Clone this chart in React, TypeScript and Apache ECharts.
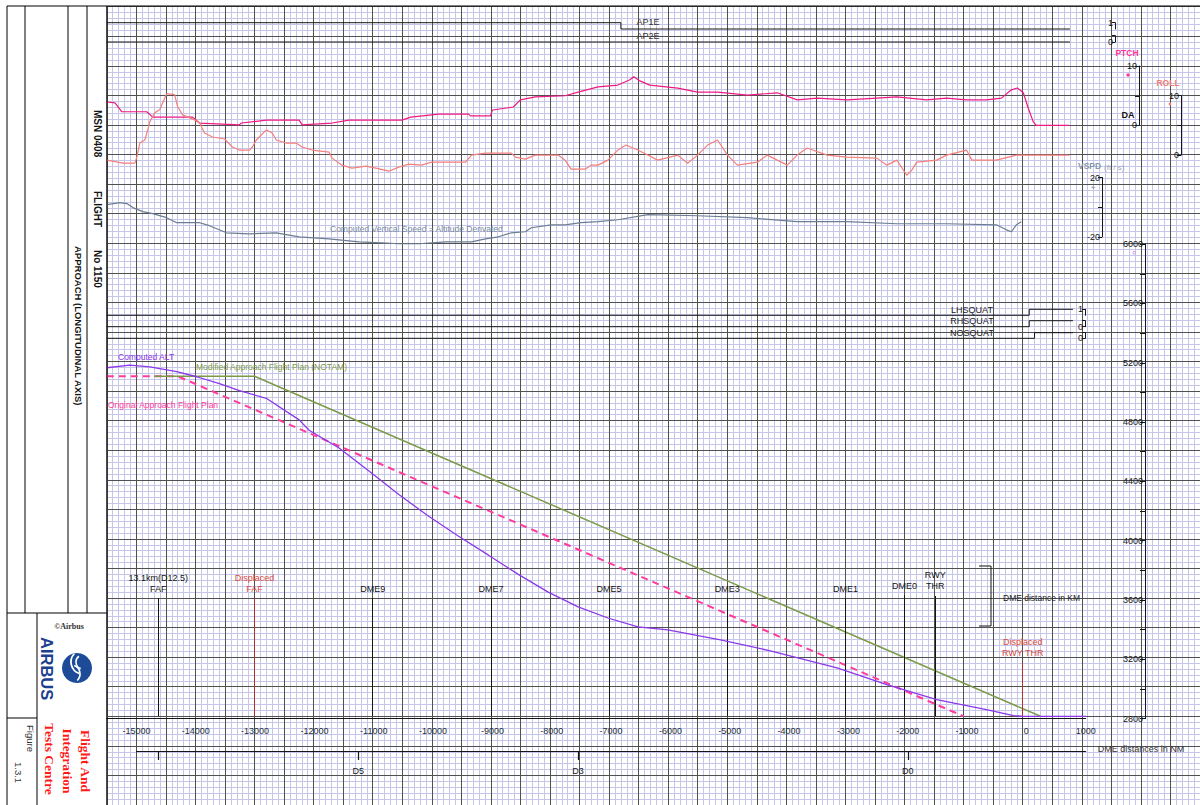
import React, { useEffect, useRef } from "react";
import * as echarts from "echarts";

// ---------------- DATA ----------------
// distance from displaced threshold (m) vs altitude (ft)
const computedAlt: [number, number][] = [
  [-15500, 5158], [-15109, 5175], [-14773, 5164], [-14318, 5131], [-13981, 5097],
  [-13593, 5050], [-13256, 5003], [-12801, 4951], [-12245, 4805], [-12076, 4735],
  [-11570, 4615], [-11064, 4460], [-10558, 4300], [-10053, 4153], [-9547, 4018],
  [-9041, 3890], [-8536, 3760], [-8030, 3640], [-7524, 3540], [-7019, 3465],
  [-6513, 3405], [-6007, 3385], [-5114, 3317], [-4272, 3243], [-3142, 3128],
  [-2299, 3014], [-1456, 2913], [-613, 2845], [-158, 2805], [10, 2800], [1072, 2800],
];
const originalPlan: [number, number][] = [[-15500, 5100], [-14300, 5100], [-1000, 2800]];
const modifiedPlan: [number, number][] = [[-14700, 5100], [-13000, 5100], [300, 2800]];

// pitch attitude (deg)
const pitch: [number, number][] = [
  [-15500, 3.95], [-15362, 3.8], [-15244, 2.3], [-14824, 2.3], [-14723, 1.4], [-14048, 1.4],
  [-13930, 0.4], [-13256, 0.1], [-13222, 0.4], [-12801, 0.9], [-12245, 0.9], [-12194, 0.1],
  [-11688, 0.4], [-11402, 0.9], [-10508, 0.9], [-10356, 1.4], [-9884, 1.9], [-9378, 1.9],
  [-9345, 1.6], [-9007, 1.6], [-8974, 2.6], [-8620, 3.1], [-8502, 4.3], [-8249, 4.8],
  [-7744, 5.0], [-7524, 5.6], [-7187, 6.5], [-6850, 6.8], [-6648, 7.7], [-6581, 8.2],
  [-6479, 7.5], [-6311, 6.8], [-5839, 6.3], [-5502, 5.6], [-5165, 5.6], [-4659, 5.1],
  [-4154, 5.5], [-3816, 4.3], [-3479, 4.6], [-2973, 4.3], [-2468, 4.6], [-2130, 4.8],
  [-1625, 4.3], [-1288, 4.6], [-951, 4.3], [-613, 4.3], [-361, 4.6], [-192, 6.0],
  [-91, 6.3], [10, 5.5], [94, 2.9], [179, 0.6], [229, 0], [785, 0],
];

// roll attitude (deg)
const roll: [number, number][] = [
  [-15500, -0.85], [-15227, -1.36], [-15025, -1.36], [-14992, -0.34], [-14941, 2.03],
  [-14857, 2.54], [-14807, 4.24], [-14773, 5.59], [-14689, 7.12], [-14605, 7.63],
  [-14554, 8.81], [-14487, 10.34], [-14352, 10.17], [-14301, 8.14], [-14217, 6.78],
  [-14015, 5.93], [-13930, 5.42], [-13846, 3.73], [-13711, 3.05], [-13509, 2.71],
  [-13374, 1.36], [-13256, 0.85], [-13087, 0.85], [-13037, 1.36], [-12969, 2.54],
  [-12919, 3.05], [-12801, 4.24], [-12700, 3.73], [-12632, 2.54], [-12464, 2.03],
  [-12295, 2.03], [-12194, 1.36], [-12026, 0.85], [-11738, 0.51], [-11688, -0.51],
  [-11520, -1.69], [-11351, -2.2], [-11115, -1.86], [-10946, -2.2], [-10727, -2.71],
  [-10558, -2.03], [-10390, -1.53], [-10171, -1.69], [-10002, -1.19], [-9429, -1.19],
  [-9328, 0], [-9092, 0.34], [-8654, 0.34], [-8586, -0.34], [-8418, -0.68], [-8249, 0],
  [-7862, 0], [-7744, -0.85], [-7643, -2.37], [-7407, -2.37], [-7305, -1.69], [-7187, -1.69],
  [-7019, -0.85], [-6850, 0.85], [-6715, 1.69], [-6513, 0.85], [-6176, -0.85], [-5839, 0],
  [-5670, -1.36], [-5502, 0], [-5333, 1.69], [-5165, 2.54], [-4996, 0], [-4828, -1.69],
  [-4491, -1.19], [-4322, 0], [-3985, -1.69], [-3816, 0], [-3648, 1.19], [-3311, 0],
  [-2973, -0.34], [-2468, -0.51], [-2299, -1.69], [-2130, -0.85], [-1962, -3.39],
  [-1877, -2.54], [-1793, -1.19], [-1456, -0.85], [-1288, 0], [-951, 0.85], [-860, -0.85],
  [-445, -0.85], [-108, 0], [785, 0],
];

// computed vertical speed (ft/s)
const vspd: [number, number][] = [
  [-15500, 1.7], [-15278, 3.05], [-15160, 2.4], [-15059, -0.3], [-14891, -3.05],
  [-14723, -4.4], [-14487, -7.1], [-14318, -10.5], [-13930, -10.5], [-13762, -12.5],
  [-13475, -17.3], [-13087, -18], [-12632, -17.3], [-12245, -20], [-11738, -21.4],
  [-11233, -23.4], [-10845, -24.1], [-10558, -24.7], [-10221, -24.7], [-9766, -23.4],
  [-9328, -23.4], [-9092, -21.4], [-8873, -20], [-8654, -17.3], [-8418, -16.6],
  [-8317, -13.9], [-7980, -11.9], [-7744, -11.9], [-7474, -10.5], [-7187, -9.8],
  [-6850, -8.5], [-6344, -5.1], [-5502, -5.8], [-4659, -7.1], [-3816, -9.8],
  [-2973, -9.8], [-2130, -11.2], [-1288, -11.2], [-445, -11.9], [-276, -15.3],
  [-192, -16.6], [-108, -11.9], [-24, -9.8],
];

// discrete signals (0/1)
const ap1e: [number, number][] = [[-15500, 1], [-6800, 1], [-6800, 0], [800, 0]];
const ap2e: [number, number][] = [[-15500, 0], [800, 0]];
const lhSquat: [number, number][] = [[-15500, 0], [110, 0], [110, 1], [850, 1]];
const rhSquat: [number, number][] = [[-15500, 0], [110, 0], [110, 1], [850, 1]];
const noSquat: [number, number][] = [[-15500, 0], [200, 0], [200, 1], [850, 1]];

// reference marks (x in m, top in ft)
const dmeMarks = [
  { name: "13.1km(D12.5)\nFAF", x: -14630, top: 3600, displaced: false },
  { name: "Displaced\nFAF", x: -13000, top: 3600, displaced: true },
  { name: "DME9", x: -11000, top: 3600, displaced: false },
  { name: "DME7", x: -9000, top: 3600, displaced: false },
  { name: "DME5", x: -7000, top: 3600, displaced: false },
  { name: "DME3", x: -5000, top: 3600, displaced: false },
  { name: "DME1", x: -3000, top: 3600, displaced: false },
  { name: "DME0", x: -2000, top: 3620, displaced: false },
  { name: "RWY\nTHR", x: -1480, top: 3614, displaced: false },
  { name: "Displaced\nRWY THR", x: 0, top: 3162, displaced: true },
];
const nmTickValues = [-14630, -11260, -7556, -2000];
const nmLabelValues = [-11260, -7556, -2000];
const nmLabelNames = ["D5", "D3", "D0"];

// ---------------- STYLE ----------------
const FONT = '"Liberation Sans", Arial, sans-serif';
const SERIF = '"Liberation Serif", "DejaVu Serif", serif';
const MAJOR = "#505050";
const MINOR = "#c6c6e8";
const PURPLE = "#8a38ea";
const PINK = "#ff3c9c";
const OLIVE = "#7c9a48";
const PITCH = "#ee1a82";
const ROLL = "#f57f7a";
const VSPD = "#6c7d93";
const INK = "#151515";

const L = 106.8;
const W = 1097.6;

function buildOption() {
  const grid: any[] = [];
  const xAxis: any[] = [];
  const yAxis: any[] = [];
  const add = (g: any, x: any, y: any) => {
    grid.push(g);
    const i = grid.length - 1;
    xAxis.push({ ...x, gridIndex: i });
    yAxis.push({ ...y, gridIndex: i });
    return i;
  };
  const hidden = (min: number, max: number) => ({ type: "value", show: false, min, max });
  const dataX = () => hidden(-15500, 3000);
  const dispY = (min: number, max: number, interval: number, fmt: (v: number) => string, tick = 4) => ({
    type: "value", min, max, interval, position: "left", z: 3,
    axisLine: { show: true, lineStyle: { color: INK, width: 1 } },
    axisTick: { show: true, length: tick, lineStyle: { color: INK, width: 1 } },
    axisLabel: { show: true, fontSize: 9, color: INK, margin: 2, fontFamily: FONT, formatter: fmt },
    splitLine: { show: false },
  });
  const paperAxis = (min: number, max: number, interval: number, major: boolean) => ({
    type: "value", min, max, interval, z: major ? 1 : 0,
    axisLine: { show: false }, axisTick: { show: false }, axisLabel: { show: false },
    splitLine: { show: major, lineStyle: { color: MAJOR, width: 1 } },
    minorTick: { show: false, splitNumber: 5 },
    minorSplitLine: { show: !major, lineStyle: { color: MINOR, width: 1 } },
  });
  const paper = { left: L, top: 6.74, width: W, height: 800.96 };

  // 0: paper minor grid + altitude data
  const gAlt = add({ ...paper }, paperAxis(-15500, 3000, 500, false), paperAxis(2200, 7600, 200, false));
  // 1: paper major grid (drawn above minor)
  add({ ...paper }, paperAxis(-15500, 3000, 500, true), paperAxis(2200, 7600, 200, true));
  // 2: distance axis
  add(
    { left: L, top: 244.1, width: 978.9, height: 474.6 },
    {
      type: "value", min: -15500, max: 1000, interval: 500, position: "bottom", z: 3,
      axisLine: { show: true, lineStyle: { color: INK, width: 1 } },
      axisTick: { show: false },
      axisLabel: {
        fontSize: 9, color: "#26303c", margin: 8, fontFamily: FONT,
        formatter: (v: number) => (v % 1000 === 0 && v >= -15000 ? String(v) : ""),
      },
      splitLine: { show: false },
    },
    hidden(2800, 6000)
  );
  // 3: DME NM axis
  add(
    { left: 136.45, top: 740, width: 949.3, height: 11 },
    {
      type: "value", min: -15000, max: 1000, position: "bottom", z: 3,
      name: "DME distances in NM", nameLocation: "end", nameGap: 12,
      nameTextStyle: { fontSize: 9, color: "#333", fontFamily: FONT, verticalAlign: "bottom", padding: [0, 0, -2, 0] },
      axisLine: { show: true, lineStyle: { color: INK, width: 1 } },
      axisTick: { show: true, length: 9, customValues: nmTickValues, lineStyle: { color: INK, width: 1.2 } },
      axisLabel: {
        show: true, fontSize: 9, color: "#222", margin: 15, fontFamily: FONT,
        customValues: nmLabelValues,
        formatter: (v: number) => {
          const i = nmLabelValues.indexOf(v);
          return i >= 0 ? nmLabelNames[i] : "";
        },
      },
      splitLine: { show: false },
    },
    hidden(0, 1)
  );
  // 4: altitude display axis
  add({ left: 1145, top: 244.1, width: 1, height: 474.6 }, hidden(0, 1),
    dispY(2800, 6000, 200, (v) => (v % 400 === 0 ? String(v) : ""), 5));
  // pitch
  const gPitch = add({ left: L, top: 66.1, width: W, height: 59.3 }, dataX(), hidden(0, 10));
  add({ left: 1139, top: 66.1, width: 1, height: 59.3 }, hidden(0, 1),
    dispY(0, 10, 5, (v) => (v === 5 ? "" : String(v))));
  // roll
  const gRoll = add({ left: L, top: 95.7, width: W, height: 59.4 }, dataX(), hidden(0, 10));
  add({ left: 1181, top: 95.7, width: 1, height: 59.4 }, hidden(0, 1),
    dispY(0, 10, 5, (v) => (v === 5 ? "" : String(v))));
  // vspd
  const gV = add({ left: L, top: 177.5, width: W, height: 59.3 }, dataX(), hidden(-20, 20));
  add({ left: 1102, top: 177.5, width: 1, height: 59.3 }, hidden(0, 1),
    dispY(-20, 20, 20, (v) => (v === 0 ? "" : String(v))));
  // discrete signals
  const sig = [
    { data: ap1e, top: 22.7, h: 6.3, axX: 1115, fmt: (v: number) => String(v) },
    { data: ap2e, top: 35.7, h: 6.3, axX: 1115, fmt: (v: number) => (v === 0 ? "0" : "") },
    { data: lhSquat, top: 309.3, h: 6, axX: 1085, fmt: (v: number) => String(v) },
    { data: rhSquat, top: 320.7, h: 6, axX: 1085, fmt: (v: number) => (v === 0 ? "0" : "") },
    { data: noSquat, top: 332.7, h: 5.6, axX: 1085, fmt: (v: number) => (v === 0 ? "0" : "") },
  ];
  const sigSeries: any[] = [];
  sig.forEach((s) => {
    const gi = add({ left: L, top: s.top, width: W, height: s.h }, dataX(), hidden(0, 1));
    add({ left: s.axX, top: s.top, width: 1, height: s.h }, hidden(0, 1), dispY(0, 1, 1, s.fmt, 3));
    sigSeries.push({
      type: "line", xAxisIndex: gi, yAxisIndex: gi, data: s.data, symbol: "none",
      lineStyle: { color: INK, width: 1 }, clip: false, silent: true,
    });
  });

  const series: any[] = [
    {
      type: "line", name: "Original Approach Flight Plan", xAxisIndex: gAlt, yAxisIndex: gAlt,
      data: originalPlan, symbol: "none", silent: true, z: 4,
      lineStyle: { color: PINK, width: 2, type: [7, 5] },
      markLine: {
        silent: true, symbol: ["none", "none"], animation: false,
        label: { show: true, position: "end", formatter: "{b}", fontSize: 9, lineHeight: 11, fontFamily: FONT, color: INK, distance: 4 },
        lineStyle: { type: "solid", width: 1, color: INK },
        data: dmeMarks.map((m) => [
          {
            name: m.name, coord: [m.x, 2800],
            lineStyle: { type: "solid", width: 1, color: m.displaced ? "#b0302a" : INK },
            label: { color: m.displaced ? "#d94a40" : INK },
          },
          { coord: [m.x, m.top] },
        ]),
      },
    },
    {
      type: "line", name: "Modified Approach Flight Plan (NOTAM)", xAxisIndex: gAlt, yAxisIndex: gAlt,
      data: modifiedPlan, symbol: "none", silent: true, z: 4,
      lineStyle: { color: OLIVE, width: 1.5 },
    },
    {
      type: "line", name: "Computed ALT", xAxisIndex: gAlt, yAxisIndex: gAlt,
      data: computedAlt, symbol: "none", silent: true, z: 5,
      lineStyle: { color: PURPLE, width: 1.3 },
    },
    {
      type: "line", name: "PTCH", xAxisIndex: gPitch, yAxisIndex: gPitch, data: pitch,
      symbol: "none", clip: false, silent: true, lineStyle: { color: PITCH, width: 1.2 },
    },
    {
      type: "line", name: "ROLL", xAxisIndex: gRoll, yAxisIndex: gRoll, data: roll,
      symbol: "none", clip: false, silent: true, lineStyle: { color: ROLL, width: 1.2 },
    },
    {
      type: "line", name: "VSPD", xAxisIndex: gV, yAxisIndex: gV, data: vspd,
      symbol: "none", clip: false, silent: true, lineStyle: { color: VSPD, width: 1.2 },
    },
    ...sigSeries,
  ];

  const txt = (text: string, x: number, y: number, o: any = {}) => ({
    type: "text", x, y, rotation: o.rotation || 0, z: 100, silent: true,
    style: {
      text, x: 0, y: 0, fill: o.fill || INK,
      font: `${o.weight || "normal"} ${o.size || 9}px ${o.family || FONT}`,
      textAlign: o.align || "left", textVerticalAlign: o.va || "middle",
    },
  });
  const ln = (x1: number, y1: number, x2: number, y2: number, w = 1, c = "#000") => ({
    type: "line", z: 100, silent: true, shape: { x1, y1, x2, y2 }, style: { stroke: c, lineWidth: w },
  });
  const R = -Math.PI / 2;

  const graphic: any[] = [
    // frame
    ln(7, 6, 1200, 6),
    ln(7, 6, 7, 805),
    ln(25, 6, 25, 613),
    ln(68, 6, 68, 613),
    ln(87, 6, 87, 613),
    ln(106.8, 6, 106.8, 805),
    ln(7, 613, 106.8, 613),
    ln(37, 613, 37, 805),
    ln(7, 718, 37, 718),
    // side titles
    txt("MSN 0408", 97, 110, { rotation: R, weight: "bold", size: 10 }),
    txt("FLIGHT", 97, 191, { rotation: R, weight: "bold", size: 10 }),
    txt("No 1150", 97, 250, { rotation: R, weight: "bold", size: 10 }),
    txt("APPROACH (LONGITUDINAL AXIS)", 78, 246, { rotation: R, weight: "bold", size: 9.5 }),
    // logo block
    txt("©Airbus", 69, 626, { align: "center", weight: "bold", size: 8, family: SERIF, fill: "#333" }),
    txt("AIRBUS", 47, 637, { rotation: R, weight: "bold", size: 16.5, fill: "#1c3f8f" }),
    { type: "circle", z: 100, silent: true, shape: { cx: 77, cy: 668, r: 15 }, style: { fill: "#1d4b98" } },
    { type: "arc", z: 101, silent: true, shape: { cx: 83, cy: 662, r: 12, startAngle: 1.9, endAngle: 3.9 }, style: { stroke: "#fff", lineWidth: 1.8, fill: "none" } },
    { type: "arc", z: 101, silent: true, shape: { cx: 83, cy: 662, r: 7, startAngle: 1.9, endAngle: 4.1 }, style: { stroke: "#fff", lineWidth: 1.6, fill: "none" } },
    { type: "arc", z: 101, silent: true, shape: { cx: 71, cy: 674, r: 9, startAngle: -1.2, endAngle: 0.8 }, style: { stroke: "#fff", lineWidth: 1.6, fill: "none" } },
    txt("Flight And", 85, 761, { rotation: R, align: "center", weight: "bold", size: 13.5, family: SERIF, fill: "#ff1a1a" }),
    txt("Integration", 67, 761, { rotation: R, align: "center", weight: "bold", size: 13.5, family: SERIF, fill: "#ff1a1a" }),
    txt("Tests Centre", 49, 759, { rotation: R, align: "center", weight: "bold", size: 13.5, family: SERIF, fill: "#ff1a1a" }),
    txt("Figure", 30, 725, { rotation: R, size: 9.5, fill: "#333" }),
    txt("1.3.1", 18, 762, { rotation: R, size: 9.5, fill: "#333" }),
    // signal names
    txt("AP1E", 648, 22, { align: "center", size: 9, fill: "#333" }),
    txt("AP2E", 648, 36, { align: "center", size: 9, fill: "#333" }),
    txt("LHSQUAT", 972, 310, { align: "center", size: 9, fill: "#222" }),
    txt("RHSQUAT", 972, 321, { align: "center", size: 9, fill: "#222" }),
    txt("NOSQUAT", 972, 333, { align: "center", size: 9, fill: "#222" }),
    // curve names
    txt("Computed ALT", 118, 357, { size: 8.5, fill: PURPLE }),
    txt("Modified Approach Flight Plan (NOTAM)", 196, 367, { size: 8.5, fill: OLIVE }),
    txt("Original Approach Flight Plan", 108, 405, { size: 8.5, fill: PINK }),
    txt("Computed Vertical Speed = Altitude Derivated", 330, 229, { size: 8.5, fill: "#7b8ba0" }),
    // right-hand parameter names
    txt("PTCH", 1127, 53, { align: "center", weight: "bold", size: 8.5, fill: "#ff3399" }),
    { type: "circle", z: 100, silent: true, shape: { cx: 1128, cy: 75, r: 1.6 }, style: { fill: "#ff3399" } },
    txt("DA", 1128, 115, { align: "center", weight: "bold", size: 9, fill: INK }),
    txt("ROLL", 1168, 83, { align: "center", weight: "bold", size: 8.5, fill: "#ef7f79" }),
    { type: "circle", z: 100, silent: true, shape: { cx: 1170, cy: 104, r: 1.4 }, style: { fill: ROLL } },
    txt("VSPD", 1078, 166, { weight: "bold", size: 8.5, fill: "#8797ab" }),
    txt("(ft / s)", 1104, 167, { size: 8, fill: "#98a6b8" }),
    txt("+", 1093, 187, { align: "center", size: 8, fill: VSPD }),
    { type: "rect", z: 100, silent: true, shape: { x: 1133, y: 251.5, width: 2.5, height: 2.5 }, style: { fill: "none", stroke: "#c9a0f0", lineWidth: 0.8 } },
    // DME km bracket
    { type: "polyline", z: 100, silent: true, shape: { points: [[979, 566], [991, 566], [991, 626], [979, 626]] }, style: { stroke: INK, lineWidth: 1, fill: "none" } },
    txt("DME distance in KM", 1003, 598, { size: 8.5, fill: "#222" }),
  ];

  return {
    animation: false,
    backgroundColor: "transparent",
    textStyle: { fontFamily: FONT },
    grid,
    xAxis,
    yAxis,
    series,
    graphic,
  };
}

export default function App() {
  const ref = useRef<HTMLDivElement>(null);
  useEffect(() => {
    if (!ref.current) return;
    const chart = echarts.init(ref.current, undefined, { renderer: "svg" });
    chart.setOption(buildOption() as any);
    return () => chart.dispose();
  }, []);
  return (
    <div
      ref={ref}
      style={{ position: "absolute", left: 0, top: 0, width: 1200, height: 805, background: "#fff" }}
    />
  );
}
